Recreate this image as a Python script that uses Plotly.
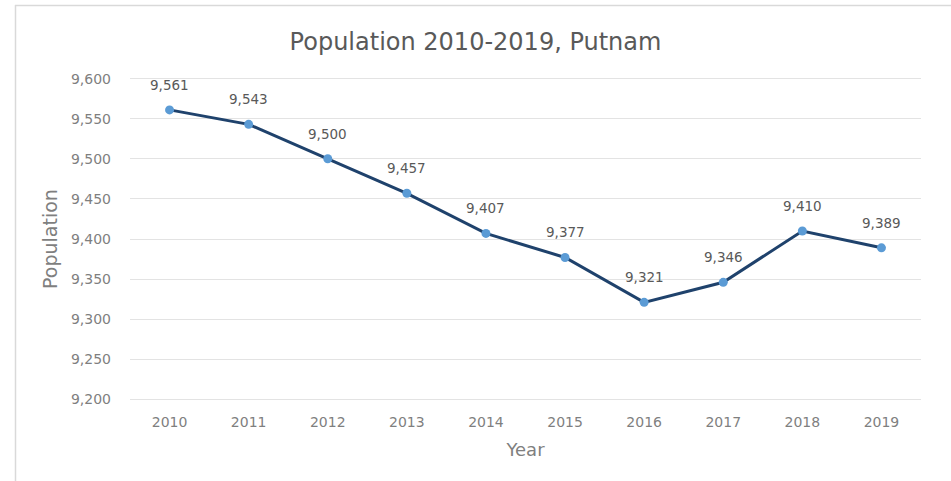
import plotly.graph_objects as go

years = ["2010", "2011", "2012", "2013", "2014", "2015", "2016", "2017", "2018", "2019"]
population = [9561, 9543, 9500, 9457, 9407, 9377, 9321, 9346, 9410, 9389]
y_ticks = [9200, 9250, 9300, 9350, 9400, 9450, 9500, 9550, 9600]

W, H = 951, 481
L, R, T, B = 130, 30, 77, 80
pw, ph = W - L - R, H - T - B

def px_x(p):
    return (p - L) / pw

def px_y(p):
    return (H - B - p) / ph

font_fam = "DejaVu Sans, sans-serif"

fig = go.Figure()
fig.add_trace(go.Scatter(
    x=years, y=population, mode="lines+markers",
    line=dict(color="#1F426C", width=3),
    marker=dict(color="#5B9BD5", size=9),
    cliponaxis=False,
    hoverinfo="skip",
))

annotations = [
    dict(x=i, y=v, xref="x", yref="y", text=f"{v:,}", showarrow=False,
         yshift=25, font=dict(size=13.5, color="#595959", family=font_fam))
    for i, v in enumerate(population)
]

fig.update_layout(
    width=W, height=H,
    margin=dict(l=L, r=R, t=T, b=B),
    paper_bgcolor="white", plot_bgcolor="white",
    showlegend=False,
    annotations=annotations,
    title=dict(text="Population 2010-2019, Putnam", x=0.5, xanchor="center",
               y=1 - 42 / H, yanchor="middle",
               font=dict(size=24, color="#595959", family=font_fam)),
    xaxis=dict(type="category", range=[-0.5, 9.5], showgrid=False, zeroline=False,
               showline=False, ticks="", ticklabelstandoff=11,
               tickfont=dict(size=14, color="#7F7F7F", family=font_fam),
               title=dict(text="Year", standoff=14,
                          font=dict(size=18, color="#7F7F7F", family=font_fam))),
    yaxis=dict(range=[9198, 9602], tickvals=y_ticks,
               ticktext=[f"{v:,}" for v in y_ticks],
               showgrid=True, gridcolor="#E3E3E3", gridwidth=1, zeroline=False,
               showline=False, ticks="", ticklabelstandoff=18,
               tickfont=dict(size=14, color="#7F7F7F", family=font_fam),
               title=dict(text="Population", standoff=8,
                          font=dict(size=19, color="#7F7F7F", family=font_fam))),
    shapes=[
        dict(type="line", xref="paper", yref="paper",
             x0=px_x(15), x1=px_x(W + 5), y0=px_y(5.5), y1=px_y(5.5),
             line=dict(color="#D9D9D9", width=1.5)),
        dict(type="line", xref="paper", yref="paper",
             x0=px_x(15.5), x1=px_x(15.5), y0=px_y(5), y1=px_y(H + 5),
             line=dict(color="#D9D9D9", width=1.5)),
    ],
)

fig.write_html("out.html")
